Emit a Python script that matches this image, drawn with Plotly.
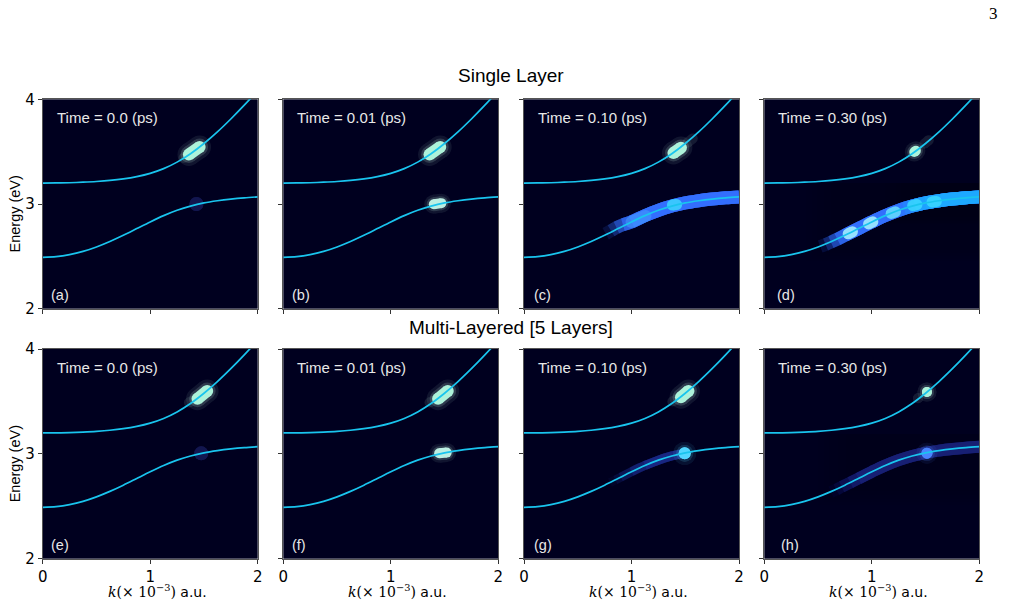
import plotly.graph_objects as go

# ---------------- data ----------------
k_grid = [0.0, 0.125, 0.25, 0.375, 0.5, 0.625, 0.75, 0.875, 1.0,
          1.125, 1.25, 1.375, 1.5, 1.625, 1.75, 1.875, 2.0]
lower_E = [2.490, 2.497, 2.516, 2.547, 2.590, 2.642, 2.701, 2.765, 2.829,
           2.889, 2.940, 2.980, 3.010, 3.031, 3.047, 3.059, 3.068]
upper_E = [3.200, 3.201, 3.203, 3.208, 3.215, 3.225, 3.240, 3.262, 3.293,
           3.338, 3.400, 3.480, 3.578, 3.689, 3.812, 3.944, 4.082]

row_titles = ["Single Layer", "Multi-Layered [5 Layers]"]
panel_labels = ["(a)", "(b)", "(c)", "(d)", "(e)", "(f)", "(g)", "(h)"]
time_labels = ["Time = 0.0 (ps)", "Time = 0.01 (ps)", "Time = 0.10 (ps)", "Time = 0.30 (ps)",
               "Time = 0.0 (ps)", "Time = 0.01 (ps)", "Time = 0.10 (ps)", "Time = 0.30 (ps)"]
x_ticks = [0, 1, 2]
y_ticks = [2, 3, 4]

# population blobs: panel index, kind, start (k, E), end (k, E)
blob_panel = [0, 0, 0,
              1, 1,
              2, 2, 2, 2,
              3, 3, 3, 3, 3, 3, 3,
              4, 4, 4,
              5, 5, 5,
              6, 6, 6,
              7, 7, 7]
blob_kind = ["tail", "upper", "lower_dim",
             "upper", "lower_mint",
             "tail", "upper", "spot_soft", "spot_cyan",
             "tail", "upper_small", "spot_white", "spot_white", "spot_light", "spot_cyan", "spot_cyan",
             "tail", "upper", "lower_dim",
             "tail", "upper", "lower_mint",
             "tail", "upper", "lower_cyan",
             "tail", "upper_small", "lower_blue"]
blob_k0 = [1.31, 1.36, 1.43,
           1.36, 1.40,
           1.52, 1.39, 1.00, 1.38,
           1.49, 1.395, 0.78, 0.97, 1.18, 1.38, 1.56,
           1.36, 1.44, 1.475,
           1.36, 1.44, 1.45,
           1.38, 1.46, 1.495,
           1.43, 1.513, 1.513]
blob_E0 = [3.44, 3.473, 3.00,
           3.473, 2.998,
           3.585, 3.487, 2.829, 2.99,
           3.575, 3.497, 2.715, 2.81, 2.91, 2.985, 3.02,
           3.49, 3.525, 3.005,
           3.49, 3.525, 3.005,
           3.50, 3.54, 3.005,
           3.53, 3.59, 3.006]
blob_k1 = [1.35, 1.46, 1.43,
           1.46, 1.47,
           1.57, 1.46, 1.13, 1.42,
           1.53, 1.41, 0.82, 1.01, 1.22, 1.42, 1.60,
           1.40, 1.53, 1.475,
           1.40, 1.53, 1.52,
           1.42, 1.53, 1.495,
           1.43, 1.513, 1.513]
blob_E1 = [3.465, 3.545, 3.00,
           3.545, 3.008,
           3.625, 3.537, 2.885, 2.995,
           3.61, 3.508, 2.735, 2.83, 2.925, 2.995, 3.025,
           3.51, 3.60, 3.005,
           3.51, 3.60, 3.012,
           3.52, 3.60, 3.005,
           3.53, 3.59, 3.006]

# bands of population spread along the lower branch
band_panel = [2, 3, 3, 6, 7]
band_kind = ["blue", "blue", "cyanblue", "faint", "faint_dark"]
band_k = [[0.76, 0.81, 0.86, 0.92, 1.0, 1.125, 1.25, 1.375, 1.5, 1.625, 1.75, 1.875, 2.0],
          [0.52, 0.57, 0.62, 0.68, 0.75, 0.875, 1.0, 1.125, 1.25, 1.375, 1.5, 1.625, 1.75, 1.875, 2.0],
          [1.25, 1.3, 1.35, 1.4, 1.5, 1.625, 1.75, 1.875, 2.0],
          [0.8, 0.85, 0.9, 1.0, 1.125, 1.25, 1.375, 1.5],
          [0.62, 0.67, 0.72, 0.8, 0.875, 1.0, 1.125, 1.25, 1.375, 1.5, 1.625, 1.75, 1.875, 2.0]]
band_E = [[2.716, 2.745, 2.775, 2.802, 2.829, 2.889, 2.940, 2.980, 3.010, 3.031, 3.047, 3.059, 3.068],
          [2.594, 2.614, 2.636, 2.664, 2.701, 2.765, 2.829, 2.889, 2.940, 2.980, 3.010, 3.031, 3.047, 3.059, 3.068],
          [2.940, 2.957, 2.973, 2.986, 3.010, 3.031, 3.047, 3.059, 3.068],
          [2.726, 2.751, 2.777, 2.829, 2.889, 2.940, 2.980, 3.010],
          [2.636, 2.659, 2.686, 2.726, 2.765, 2.829, 2.889, 2.940, 2.980, 3.010, 3.031, 3.047, 3.059, 3.068]]

# ---------------- styling ----------------
W, H = 1014, 605
BG = "#00001f"
CURVE = "#19c4ee"
SANS = "Liberation Sans, Arial, sans-serif"
TICKFONT = "DejaVu Sans"

blob_style = {
    "upper":       dict(color="#b4fce2", width=12, opacity=0.95, halo="#c8fbe8"),
    "upper_small": dict(color="#b4fce2", width=10, opacity=0.95, halo="#c8fbe8"),
    "tail":        dict(color="#3c4a5a", width=10, opacity=0.35, halo=None),
    "lower_dim":   dict(color="#161a58", width=14, opacity=0.85, halo=None),
    "lower_mint":  dict(color="#c4f8ea", width=10, opacity=0.95, halo="#c4f8ea"),
    "spot_cyan":   dict(color="#3ddcff", width=11, opacity=0.8, halo=None),
    "spot_white":  dict(color="#a8f4ff", width=11, opacity=0.85, halo=None),
    "spot_light":  dict(color="#6ce6ff", width=11, opacity=0.8, halo=None),
    "spot_soft":   dict(color="#4aa8ff", width=12, opacity=0.45, halo=None),
    "lower_cyan":  dict(color="#52d6ff", width=12, opacity=1.0, halo="#52d6ff"),
    "lower_blue":  dict(color="#4a84ff", width=11, opacity=1.0, halo="#4a84ff"),
}
band_style = {
    "blue":       dict(color="#3470ff", width=13, opacity=0.92),
    "cyanblue":   dict(color="#1eaaff", width=13, opacity=0.85),
    "faint":      dict(color="#1c2c8e", width=9, opacity=0.6),
    "faint_dark": dict(color="#1a2278", width=12, opacity=0.75),
}
fade_steps = [0.15, 0.3, 0.5, 0.75, 1.0]

x_left = [42.7, 283.3, 524.0, 764.3]
PW = 215.0
row_top = [99.3, 349.0]
row_bot = [308.7, 558.7]
label_dx = [6, 7, 8, 11, 6, 7, 8, 15]


def px(x):
    return x / W


def py(y):
    return 1 - y / H


fig = go.Figure()


def ax_names(i):
    n = "" if i == 0 else str(i + 1)
    return "x" + n, "y" + n


# bands (fading in at their low-k end)
for p, kind, ks, es in zip(band_panel, band_kind, band_k, band_E):
    st = band_style[kind]
    xa, ya = ax_names(p)
    for j, f in enumerate(fade_steps):
        fig.add_trace(go.Scatter(
            x=ks[j:], y=es[j:], mode="lines", xaxis=xa, yaxis=ya,
            line=dict(color=st["color"], width=st["width"], shape="spline"),
            opacity=st["opacity"] * f if j < len(fade_steps) - 1 else st["opacity"],
            hoverinfo="skip", showlegend=False))

# blobs
for p, kind, k0, e0, k1, e1 in zip(blob_panel, blob_kind, blob_k0, blob_E0, blob_k1, blob_E1):
    st = blob_style[kind]
    xa, ya = ax_names(p)
    layers = []
    if st["halo"]:
        layers.append((st["halo"], st["width"] * 1.9, 0.08))
        layers.append((st["halo"], st["width"] * 1.4, 0.16))
    layers.append((st["color"], st["width"], st["opacity"]))
    for col, w, op in layers:
        fig.add_trace(go.Scatter(
            x=[k0, k1], y=[e0, e1], mode="lines+markers", xaxis=xa, yaxis=ya,
            line=dict(color=col, width=w),
            marker=dict(color=col, size=w, line=dict(width=0)),
            opacity=op, hoverinfo="skip", showlegend=False))

# dispersion curves
for p in range(8):
    xa, ya = ax_names(p)
    for es in (lower_E, upper_E):
        fig.add_trace(go.Scatter(
            x=k_grid, y=es, mode="lines", xaxis=xa, yaxis=ya,
            line=dict(color=CURVE, width=1.7, shape="spline", smoothing=0.8),
            hoverinfo="skip", showlegend=False))

layout = dict(width=W, height=H, margin=dict(l=0, r=0, t=0, b=0, pad=0),
              autosize=False, paper_bgcolor="white", plot_bgcolor=BG, showlegend=False)

annotations = []
for p in range(8):
    r, c = divmod(p, 4)
    n = "" if p == 0 else str(p + 1)
    x0 = x_left[c]
    layout["xaxis" + n] = dict(
        domain=[px(x0), px(x0 + PW)], range=[0, 2], anchor="y" + n,
        tickvals=x_ticks, ticks="outside", ticklen=4, tickcolor="#333",
        showticklabels=(r == 1), tickfont=dict(family=TICKFONT, size=15, color="black"),
        showgrid=False, zeroline=False, showline=True, mirror=True,
        linecolor="#555", linewidth=1, fixedrange=True, automargin=False)
    layout["yaxis" + n] = dict(
        domain=[py(row_bot[r]), py(row_top[r])], range=[2, 4], anchor="x" + n,
        tickvals=y_ticks, ticks="outside", ticklen=4, tickcolor="#333",
        showticklabels=(c == 0), tickfont=dict(family=TICKFONT, size=15, color="black"),
        showgrid=False, zeroline=False, showline=True, mirror=True,
        linecolor="#555", linewidth=1, fixedrange=True, automargin=False)
    annotations.append(dict(
        text=time_labels[p], xref="paper", yref="paper",
        x=px(x0 + 12), y=py(row_top[r] + 18), xanchor="left", yanchor="middle",
        showarrow=False, font=dict(family=SANS, size=15, color="#e8e8e8")))
    annotations.append(dict(
        text=panel_labels[p], xref="paper", yref="paper",
        x=px(x0 + label_dx[p]), y=py(row_bot[r] - 14), xanchor="left", yanchor="middle",
        showarrow=False, font=dict(family=SANS, size=14.5, color="#e8e8e8")))
    if r == 1:
        annotations.append(dict(
            text='<span style="font-family:DejaVu Serif"><i>k</i>(× 10<sup>−3</sup>)</span> a.u.',
            xref="paper", yref="paper", x=px(x0 + PW / 2 + 7), y=py(591),
            xanchor="center", yanchor="middle", showarrow=False,
            font=dict(family="DejaVu Sans", size=14, color="black")))
    if c == 0:
        annotations.append(dict(
            text="Energy (eV)", xref="paper", yref="paper", textangle=-90,
            x=px(14.5), y=py((row_top[r] + row_bot[r]) / 2 + 10),
            xanchor="center", yanchor="middle", showarrow=False,
            font=dict(family=SANS, size=14.5, color="black")))

for r, title in enumerate(row_titles):
    annotations.append(dict(
        text=title, xref="paper", yref="paper",
        x=px((x_left[0] + x_left[3] + PW) / 2), y=py([75, 328][r]),
        xanchor="center", yanchor="middle", showarrow=False,
        font=dict(family=SANS, size=19, color="black")))

annotations.append(dict(
    text="3", xref="paper", yref="paper", x=px(993.5), y=py(13),
    xanchor="center", yanchor="middle", showarrow=False,
    font=dict(family="Liberation Serif", size=17, color="black")))

layout["annotations"] = annotations
fig.update_layout(**layout)
fig.write_html(
    "out.html",
    post_script=("document.documentElement.style.margin='0';"
                 "document.body.style.margin='0';"
                 "document.body.style.overflow='hidden';"
                 "document.documentElement.style.overflow='hidden';"))
